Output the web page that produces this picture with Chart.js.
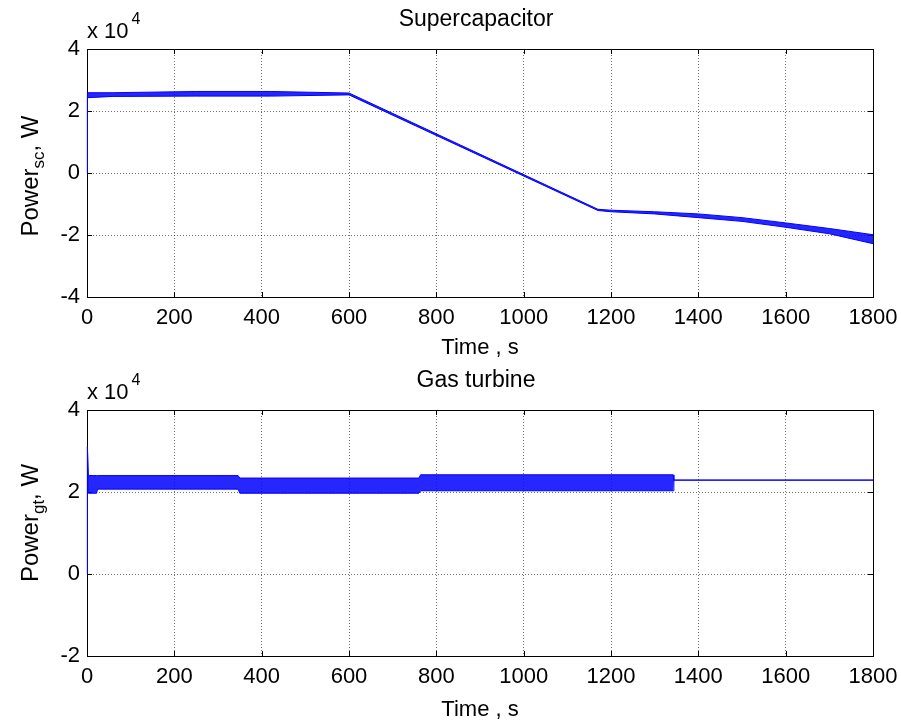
<!DOCTYPE html>
<html>
<head>
<meta charset="utf-8">
<script src="https://cdn.jsdelivr.net/npm/chart.js@4.4.0/dist/chart.umd.min.js"></script>
<style>
  body { margin: 0; background: #fff; }
  #wrap { position: relative; width: 901px; height: 724px; }
  .box { position: absolute; left: 0; width: 901px; height: 362px; }
</style>
</head>
<body>
<div id="wrap">
  <div class="box" style="top:0"><canvas id="scChart" width="901" height="362"></canvas></div>
  <div class="box" style="top:362px"><canvas id="gtChart" width="901" height="362"></canvas></div>
</div>
<script>
// shared x axis
const timeTicks = [0, 200, 400, 600, 800, 1000, 1200, 1400, 1600, 1800];

// Supercapacitor power, W (band = upper / lower envelope of the noisy trace)
const scTime  = [0, 1, 60, 250, 420, 600, 1170, 1200, 1300, 1400, 1500, 1600, 1700, 1800];
const scUpper = [0, 25900, 25900, 26300, 26300, 25800, -11700, -12000, -12500, -13200, -14400, -16100, -17900, -19900];
const scLower = [0, 24300, 24700, 24800, 24800, 25200, -12100, -12500, -13200, -14400, -15600, -17500, -19600, -22800];
const scYTicks = [-40000, -20000, 0, 20000, 40000];

// Gas turbine power, W
const gtTime  = [0, 1, 3, 22, 24, 346, 350, 760, 764, 1342, 1344, 1800];
const gtUpper = [0, 31000, 24000, 24000, 24000, 24000, 23400, 23400, 24200, 24200, 22900, 22900];
const gtLower = [0, 31000, 19700, 19700, 20700, 20700, 19700, 19700, 20300, 20300, 22900, 22900];
const gtYTicks = [-20000, 0, 20000, 40000];

const FONT = '"Liberation Sans", Arial, sans-serif';
const BLUE = 'rgb(0,0,255)';
Chart.defaults.color = '#000';
Chart.defaults.font.family = FONT;

// box, inside tick marks, title, exponent and y label with subscript
const framePlugin = {
  id: 'frame',
  beforeDatasetsDraw(chart) {
    const ctx = chart.ctx;
    const a = chart.chartArea;
    const sx = chart.scales.x, sy = chart.scales.y;
    ctx.save();
    ctx.strokeStyle = '#000';
    ctx.lineWidth = 1;
    ctx.strokeRect(a.left + 0.5, a.top + 0.5, a.right - a.left, a.bottom - a.top);
    ctx.beginPath();
    sx.ticks.forEach(t => {
      const px = Math.round(sx.getPixelForValue(t.value)) + 0.5;
      ctx.moveTo(px, a.bottom); ctx.lineTo(px, a.bottom - 5);
      ctx.moveTo(px, a.top); ctx.lineTo(px, a.top + 5);
    });
    sy.ticks.forEach(t => {
      const py = Math.round(sy.getPixelForValue(t.value)) + 0.5;
      ctx.moveTo(a.left, py); ctx.lineTo(a.left + 5, py);
      ctx.moveTo(a.right, py); ctx.lineTo(a.right - 5, py);
    });
    ctx.stroke();
    ctx.restore();
  },
  afterDraw(chart, args, opts) {
    const ctx = chart.ctx;
    const a = chart.chartArea;
    ctx.save();
    ctx.fillStyle = '#000';
    // title
    ctx.font = '23px ' + FONT;
    ctx.textAlign = 'center';
    ctx.textBaseline = 'middle';
    ctx.fillText(opts.title, (a.left + a.right) / 2 - 4, a.top - 29);

    // x 10^4
    ctx.textAlign = 'left';
    ctx.textBaseline = 'alphabetic';
    ctx.font = '22px ' + FONT;
    ctx.fillText('x 10', a.left, a.top - 11);
    const w = ctx.measureText('x 10').width;
    ctx.font = '16px ' + FONT;
    ctx.fillText('4', a.left + w + 3, a.top - 25);

    // y label: Power_sub, W
    ctx.translate(38, opts.yCenter);
    ctx.rotate(-Math.PI / 2);
    const big = '24px ' + FONT, small = '17px ' + FONT;
    ctx.font = big; const w1 = ctx.measureText('Power').width;
    ctx.font = small; const w2 = ctx.measureText(opts.sub).width;
    ctx.font = big; const w3 = ctx.measureText(', W').width;
    const x0 = -(w1 + w2 + w3) / 2;
    ctx.font = big; ctx.fillText('Power', x0, 0);
    ctx.font = small; ctx.fillText(opts.sub, x0 + w1, 6);
    ctx.font = big; ctx.fillText(', W', x0 + w1 + w2, 0);
    ctx.restore();
  }
};

function pts(xs, ys) {
  return xs.map((x, i) => ({ x: x, y: ys[i] }));
}

function makeChart(id, times, upper, lower, yTicks, plotTop, xHeight, frameOpts) {
  return new Chart(document.getElementById(id), {
    type: 'line',
    data: {
      datasets: [
        { data: pts(times, upper), borderColor: BLUE, backgroundColor: 'rgba(0,0,255,0.85)',
          borderWidth: 1, pointRadius: 0, tension: 0, fill: '+1', clip: 3 },
        { data: pts(times, lower), borderColor: BLUE,
          borderWidth: 1, pointRadius: 0, tension: 0, fill: false, clip: 3 }
      ]
    },
    options: {
      responsive: false,
      animation: false,
      layout: { padding: { left: 0, right: 28, top: plotTop, bottom: 0 } },
      plugins: {
        legend: { display: false },
        tooltip: { enabled: false },
        frame: frameOpts
      },
      scales: {
        x: {
          type: 'linear', min: 0, max: 1800,
          afterBuildTicks: s => { s.ticks = timeTicks.map(v => ({ value: v })); },
          afterFit: s => { s.height = xHeight; s.paddingLeft = 0; s.paddingRight = 0; },
          grid: { color: 'rgba(0,0,0,0.55)', drawTicks: false },
          border: { display: false, dash: [1, 2] },
          ticks: { padding: 8, font: { size: 22 }, maxRotation: 0, autoSkip: false,
                   callback: v => String(v) },
          title: { display: true, text: 'Time , s', font: { size: 22 }, padding: { top: 0, bottom: 1 } }
        },
        y: {
          type: 'linear', min: yTicks[0], max: yTicks[yTicks.length - 1],
          afterBuildTicks: s => { s.ticks = yTicks.map(v => ({ value: v })); },
          afterFit: s => { s.width = 87; },
          grid: { color: 'rgba(0,0,0,0.55)', drawTicks: false },
          border: { display: false, dash: [1, 2] },
          ticks: { padding: 7, font: { size: 22 }, callback: v => String(v / 10000) }
        }
      }
    },
    plugins: [framePlugin]
  });
}

makeChart('scChart', scTime, scUpper, scLower, scYTicks, 49, 65,
  { title: 'Supercapacitor', sub: 'sc', yCenter: 176 });
makeChart('gtChart', gtTime, gtUpper, gtLower, gtYTicks, 48, 68,
  { title: 'Gas turbine', sub: 'gt', yCenter: 161 });
</script>
</body>
</html>
